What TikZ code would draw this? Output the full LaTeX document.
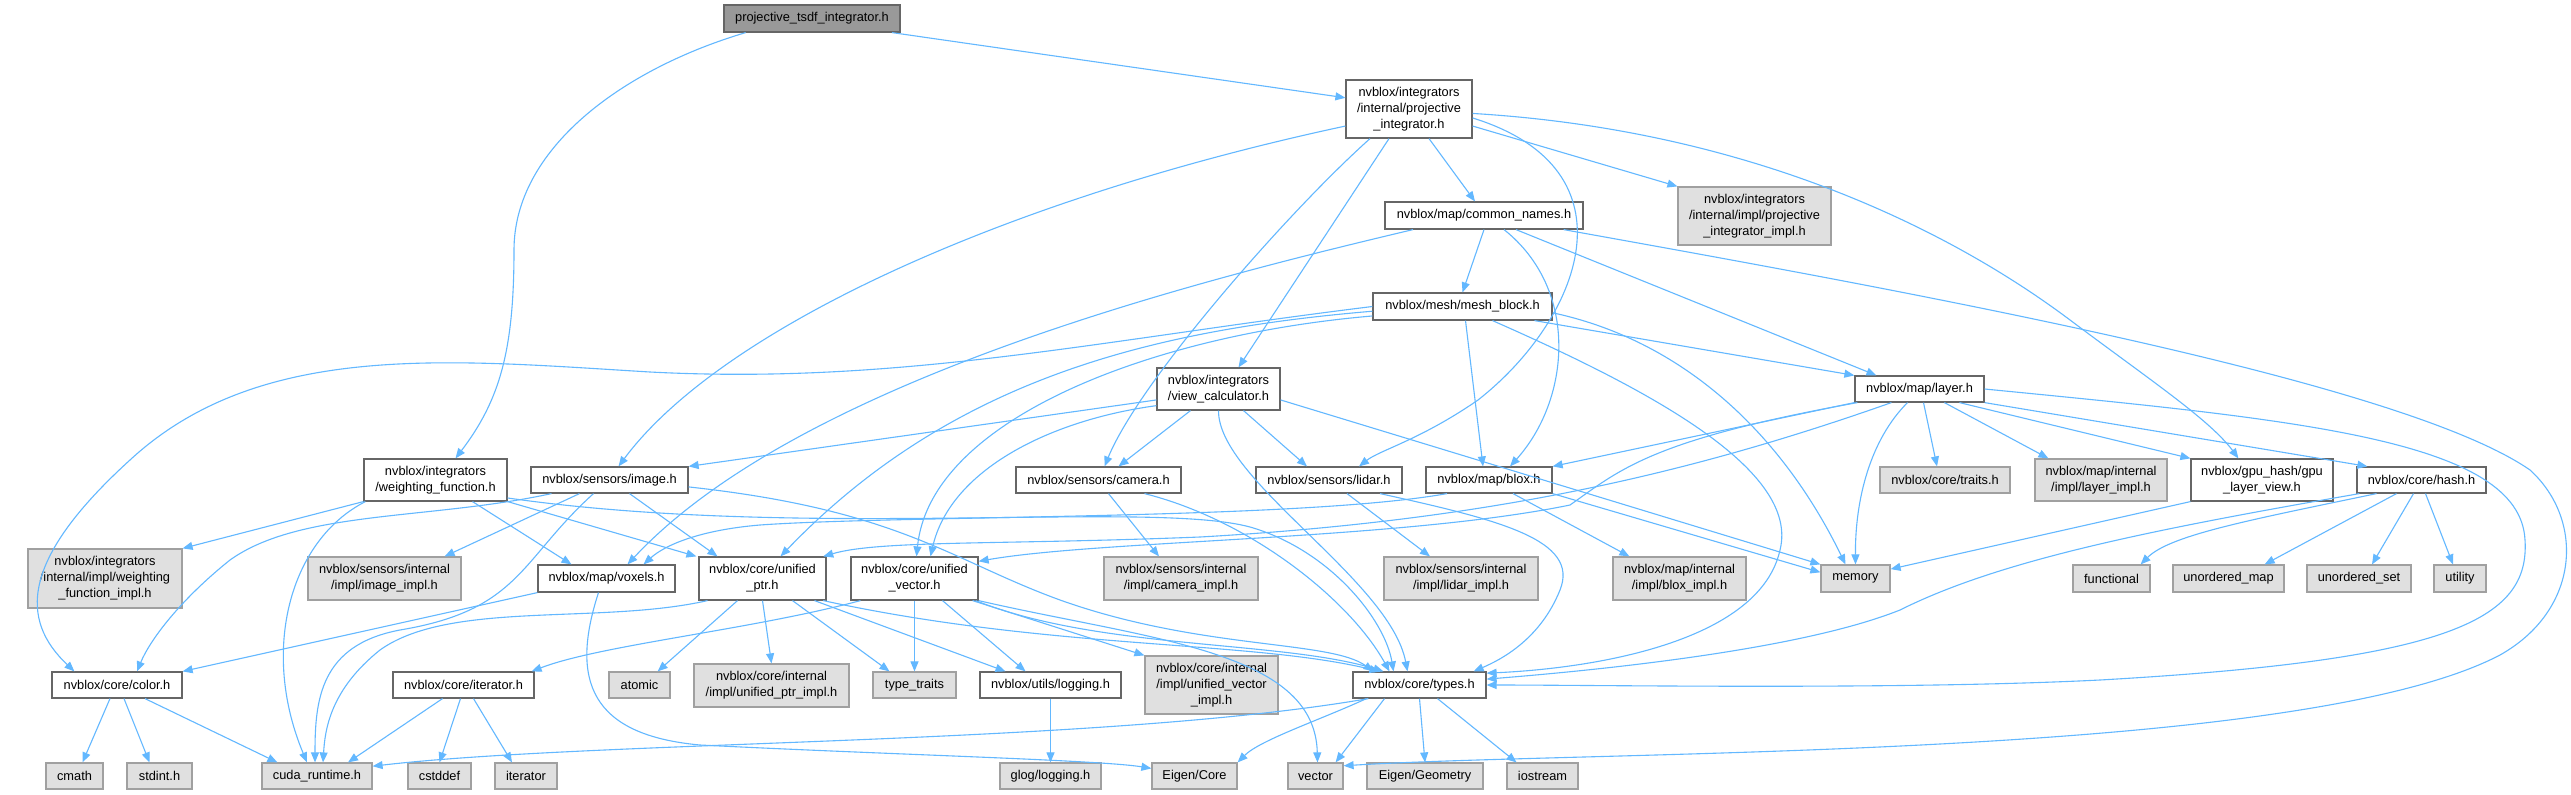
\documentclass[tikz,border=0pt]{standalone}
\usepackage{fontspec}
\setmainfont{Liberation Sans}
\usetikzlibrary{arrows.meta}
\definecolor{eb}{HTML}{63B8FF}
\definecolor{bw}{HTML}{666666}
\definecolor{bg}{HTML}{A0A0A0}
\definecolor{gfill}{HTML}{E0E0E0}
\definecolor{topfill}{HTML}{999999}
\newcommand{\mkbox}[7]{\node[#1, minimum width={(#4-#3)*1bp}, minimum height={(#6-#5)*1bp}] (#2) at ({(#3+#4)/2},{(#5+#6)/2}) {#7};}
\tikzset{
 edge/.style={draw=eb, line width=1.1bp, -{Triangle[length=10bp,width=8bp]}},
 base/.style={inner sep=0pt, align=center, font=\fontsize{12.8bp}{16bp}\selectfont, line width=1.2bp},
 wn/.style={base, draw=bw, fill=white},
 gn/.style={base, draw=bg, fill=gfill},
 tn/.style={base, draw=bw, fill=topfill},
}
\begin{document}
\begin{tikzpicture}[x=1bp,y=-1bp]
\fill[white] (0,0) rectangle (2571,795);
\useasboundingbox (0,0) rectangle (2571,795);
% nodes
\mkbox{tn}{A}{724}{900}{5}{32}{projective\_tsdf\_integrator.h}
\mkbox{wn}{PI}{1346}{1472}{80}{138}{nvblox/integrators\\/internal/projective\\\_integrator.h}
\mkbox{wn}{CN}{1385}{1583}{202}{229}{nvblox/map/common\_names.h}
\mkbox{gn}{PIimpl}{1678}{1831}{187}{245}{nvblox/integrators\\/internal/impl/projective\\\_integrator\_impl.h}
\mkbox{wn}{MB}{1373}{1552}{293}{320}{nvblox/mesh/mesh\_block.h}
\mkbox{wn}{VC}{1157}{1280}{368}{410}{nvblox/integrators\\/view\_calculator.h}
\mkbox{wn}{L}{1855}{1984}{376}{402}{nvblox/map/layer.h}
\mkbox{wn}{WF}{364}{507}{459}{501}{nvblox/integrators\\/weighting\_function.h}
\mkbox{wn}{image}{531}{688}{467}{493}{nvblox/sensors/image.h}
\mkbox{wn}{camera}{1016}{1181}{467}{493}{nvblox/sensors/camera.h}
\mkbox{wn}{lidar}{1256}{1402}{467}{493}{nvblox/sensors/lidar.h}
\mkbox{wn}{blox}{1426}{1552}{467}{493}{nvblox/map/blox.h}
\mkbox{gn}{traits}{1880}{2010}{467}{493}{nvblox/core/traits.h}
\mkbox{gn}{layerimpl}{2035}{2167}{459}{501}{nvblox/map/internal\\/impl/layer\_impl.h}
\mkbox{wn}{gpuview}{2191}{2333}{459}{501}{nvblox/gpu\_hash/gpu\\\_layer\_view.h}
\mkbox{wn}{hash}{2357}{2486}{467}{493}{nvblox/core/hash.h}
\mkbox{gn}{WFimpl}{28}{182}{549}{608}{nvblox/integrators\\/internal/impl/weighting\\\_function\_impl.h}
\mkbox{gn}{imageimpl}{308}{461}{557}{600}{nvblox/sensors/internal\\/impl/image\_impl.h}
\mkbox{wn}{voxels}{538}{675}{565}{592}{nvblox/map/voxels.h}
\mkbox{wn}{uptr}{699}{826}{557}{600}{nvblox/core/unified\\\_ptr.h}
\mkbox{wn}{uvec}{851}{978}{557}{600}{nvblox/core/unified\\\_vector.h}
\mkbox{gn}{cameraimpl}{1104}{1258}{557}{600}{nvblox/sensors/internal\\/impl/camera\_impl.h}
\mkbox{gn}{lidarimpl}{1384}{1538}{557}{600}{nvblox/sensors/internal\\/impl/lidar\_impl.h}
\mkbox{gn}{bloximpl}{1613}{1746}{557}{600}{nvblox/map/internal\\/impl/blox\_impl.h}
\mkbox{gn}{memory}{1821}{1890}{565}{592}{memory}
\mkbox{gn}{functional}{2073}{2150}{565}{592}{functional}
\mkbox{gn}{umap}{2173}{2284}{565}{592}{unordered\_map}
\mkbox{gn}{uset}{2307}{2411}{565}{592}{unordered\_set}
\mkbox{gn}{utility}{2434}{2486}{565}{592}{utility}
\mkbox{wn}{color}{52}{182}{672}{698}{nvblox/core/color.h}
\mkbox{wn}{iterh}{393}{534}{672}{698}{nvblox/core/iterator.h}
\mkbox{gn}{atomic}{609}{670}{672}{698}{atomic}
\mkbox{gn}{uptrimpl}{694}{849}{664}{707}{nvblox/core/internal\\/impl/unified\_ptr\_impl.h}
\mkbox{gn}{typetraits}{873}{956}{672}{698}{type\_traits}
\mkbox{wn}{logging}{980}{1121}{672}{698}{nvblox/utils/logging.h}
\mkbox{gn}{uvecimpl}{1145}{1278}{656}{714}{nvblox/core/internal\\/impl/unified\_vector\\\_impl.h}
\mkbox{wn}{types}{1353}{1486}{672}{698}{nvblox/core/types.h}
\mkbox{gn}{cmath}{46}{103}{763}{789}{cmath}
\mkbox{gn}{stdint}{127}{192}{763}{789}{stdint.h}
\mkbox{gn}{cuda}{262}{372}{763}{789}{cuda\_runtime.h}
\mkbox{gn}{cstddef}{408}{471}{763}{789}{cstddef}
\mkbox{gn}{iterator}{495}{557}{763}{789}{iterator}
\mkbox{gn}{glog}{1000}{1101}{763}{789}{glog/logging.h}
\mkbox{gn}{eigencore}{1152}{1237}{763}{789}{Eigen/Core}
\mkbox{gn}{vector}{1288}{1343}{763}{789}{vector}
\mkbox{gn}{eigengeom}{1367}{1483}{763}{789}{Eigen/Geometry}
\mkbox{gn}{iostream}{1507}{1578}{763}{789}{iostream}
% edges from A
\draw[edge] (A.-10) -- (PI.170);
\draw[edge] (A.-168) .. controls (620,70) and (514,150) .. (514,250) .. controls (514,350) and (500,400) .. ([xshift=20bp]WF.north);
% PI
\draw[edge] ([xshift=20bp]PI.south) -- ([xshift=-9bp]CN.north);
\draw[edge] (PI.-15) -- (PIimpl.north west);
\draw[edge] ([xshift=-20bp]PI.south) -- ([xshift=20bp]VC.north);
\draw[edge] (PI.-165) .. controls (1000,200) and (720,330) .. ([xshift=9bp]image.north);
\draw[edge] ([xshift=-39bp]PI.south) .. controls (1290,210) and (1140,380) .. ([xshift=6bp]camera.north);
\draw[edge] (PI.-8) .. controls (1640,170) and (1580,320) .. (1478,400) .. controls (1420,440) and (1380,450) .. ([xshift=30bp]lidar.north);
\draw[edge] (PI.-4) .. controls (1750,130) and (1950,230) .. (2070,320) .. controls (2150,380) and (2210,420) .. ([xshift=48bp]gpuview.north west);
% CN
\draw[edge] (CN.south) -- (MB.north);
\draw[edge] ([xshift=32bp]CN.south) -- ([xshift=22bp]L.north west);
\draw[edge] ([xshift=-71bp]CN.south) .. controls (1200,280) and (800,380) .. ([xshift=21bp]voxels.north);
\draw[edge] ([xshift=20bp]CN.south) .. controls (1580,290) and (1570,400) .. ([xshift=21bp]blox.north);
\draw[edge] ([xshift=-20bp]CN.south east) .. controls (1900,290) and (2400,380) .. (2530,470) .. controls (2585,520) and (2580,610) .. (2500,655) .. controls (2300,760) and (1600,750) .. (vector.20);
% MB
\draw[edge] (MB.west) .. controls (1100,340) and (900,385) .. (650,372) .. controls (450,360) and (260,340) .. (130,460) .. controls (20,560) and (20,620) .. ([xshift=23bp]color.north west);
\draw[edge] (MB.183) .. controls (1150,330) and (950,380) .. ([xshift=18bp]uptr.north);
\draw[edge] (MB.186) .. controls (1150,335) and (930,420) .. ([xshift=2bp]uvec.north);
\draw[edge] ([xshift=3bp]MB.south) -- ([xshift=-6bp]blox.north);
\draw[edge] ([xshift=72bp]MB.south) -- (L.north west);
\draw[edge] ([xshift=30bp]MB.south) .. controls (1650,390) and (1800,470) .. (1780,550) .. controls (1760,640) and (1600,668) .. (types.10);
\draw[edge] (MB.-4) .. controls (1680,340) and (1780,430) .. ([xshift=-10bp]memory.north);
% VC
\draw[edge] (VC.190) -- (image.north east);
\draw[edge] (VC.195) .. controls (1050,420) and (950,470) .. ([xshift=16bp]uvec.north);
\draw[edge] ([xshift=-28bp]VC.south) -- ([xshift=20bp]camera.north);
\draw[edge] ([xshift=25bp]VC.south) -- ([xshift=-22bp]lidar.north);
\draw[edge] (VC.south) .. controls (1218,480) and (1390,580) .. ([xshift=-12bp]types.north);
\draw[edge] (VC.-10) -- (memory.north west);
% image
\draw[edge] ([xshift=-30bp]image.south) -- ([xshift=-17bp]imageimpl.north east);
\draw[edge] ([xshift=-58bp]image.south) .. controls (430,520) and (300,510) .. (230,560) .. controls (180,600) and (150,640) .. ([xshift=20bp]color.north);
\draw[edge] ([xshift=-16bp]image.south) .. controls (520,560) and (520,610) .. (400,630) .. controls (320,645) and (315,700) .. ([xshift=-2bp]cuda.north);
\draw[edge] ([xshift=20bp]image.south) -- ([xshift=-45bp]uptr.north);
\draw[edge] (image.-5) .. controls (900,510) and (950,560) .. (1060,600) .. controls (1200,650) and (1330,640) .. ([xshift=-46bp]types.north);
% WF
\draw[edge] (WF.south west) -- (WFimpl.north east);
\draw[edge] ([xshift=2bp]WF.south west) .. controls (290,540) and (260,650) .. ([xshift=-10bp]cuda.north);
\draw[edge] ([xshift=37bp]WF.south) -- ([xshift=-35bp]voxels.north);
\draw[edge] (WF.south east) -- ([xshift=-2bp]uptr.north west);
\draw[edge] (WF.-14) .. controls (800,540) and (1150,500) .. (1250,527) .. controls (1330,550) and (1385,620) .. ([xshift=-26bp]types.north);
% voxels
\draw[edge] (voxels.south west) -- (color.north east);
\draw[edge] ([xshift=-8bp]voxels.south) .. controls (570,680) and (590,735) .. (700,745) .. controls (900,755) and (1100,760) .. (eigencore.170);
% uptr
\draw[edge] ([xshift=-25bp]uptr.south) -- ([xshift=-13bp]atomic.north east);
\draw[edge] (uptr.south) -- (uptrimpl.north);
\draw[edge] ([xshift=30bp]uptr.south) -- ([xshift=-25bp]typetraits.north);
\draw[edge] ([xshift=52bp]uptr.south) -- ([xshift=-45bp]logging.north);
\draw[edge] (uptr.-20) .. controls (1050,650) and (1250,640) .. ([xshift=-40bp]types.north);
\draw[edge] ([xshift=-55bp]uptr.south) .. controls (600,625) and (450,600) .. (380,650) .. controls (330,690) and (325,730) .. ([xshift=6bp]cuda.north);
% uvec
\draw[edge] (uvec.south) -- (typetraits.north);
\draw[edge] ([xshift=28bp]uvec.south) -- ([xshift=-25bp]logging.north);
\draw[edge] ([xshift=-6bp]uvec.south east) -- (uvecimpl.north west);
\draw[edge] ([xshift=-3bp]uvec.south east) .. controls (1100,650) and (1280,640) .. ([xshift=-36bp]types.north);
\draw[edge] ([xshift=-54bp]uvec.south) .. controls (750,630) and (600,645) .. ([xshift=-3bp]iterh.north east);
\draw[edge] (uvec.south east) .. controls (1150,640) and (1315,650) .. ([xshift=2bp]vector.north);
% types
\draw[edge] ([xshift=16bp]types.south west) .. controls (1100,745) and (600,740) .. (cuda.10);
\draw[edge] ([xshift=14bp]types.south west) .. controls (1320,720) and (1260,740) .. (eigencore.north east);
\draw[edge] ([xshift=-35bp]types.south) -- ([xshift=-8bp]vector.north east);
\draw[edge] (types.south) -- (eigengeom.north);
\draw[edge] ([xshift=18bp]types.south) -- ([xshift=-26bp]iostream.north);
% color, iterator, logging
\draw[edge] ([xshift=-7bp]color.south) -- ([xshift=8bp]cmath.north);
\draw[edge] ([xshift=7bp]color.south) -- ([xshift=-10bp]stdint.north);
\draw[edge] ([xshift=28bp]color.south) -- ([xshift=16bp]cuda.north west);
\draw[edge] ([xshift=-21bp]iterh.south) -- ([xshift=31bp]cuda.north);
\draw[edge] ([xshift=-3bp]iterh.south) -- (cstddef.north);
\draw[edge] ([xshift=10bp]iterh.south) -- ([xshift=-14bp]iterator.north);
\draw[edge] (logging.south) -- (glog.north);
% camera, lidar, blox
\draw[edge] ([xshift=10bp]camera.south) -- ([xshift=-22bp]cameraimpl.north);
\draw[edge] ([xshift=46bp]camera.south) .. controls (1250,520) and (1350,600) .. ([xshift=-30bp]types.north);
\draw[edge] ([xshift=18bp]lidar.south) -- ([xshift=-31bp]lidarimpl.north);
\draw[edge] ([xshift=51bp]lidar.south) .. controls (1500,520) and (1580,540) .. (1560,590) .. controls (1540,640) and (1500,660) .. ([xshift=-13bp]types.north east);
\draw[edge] ([xshift=24bp]blox.south) -- ([xshift=17bp]bloximpl.north west);
\draw[edge] (blox.south east) -- (memory.170);
\draw[edge] ([xshift=-42bp]blox.south) .. controls (1300,520) and (900,515) .. (760,525) .. controls (700,530) and (665,545) .. ([xshift=37bp]voxels.north);
% layer
\draw[edge] ([xshift=4bp]L.south) -- ([xshift=-8bp]traits.north);
\draw[edge] ([xshift=90bp]L.south west) -- ([xshift=14bp]layerimpl.north west);
\draw[edge] ([xshift=105bp]L.south west) -- (gpuview.north west);
\draw[edge] (L.south east) -- ([xshift=11bp]hash.north west);
\draw[edge] ([xshift=-12bp]L.south) .. controls (1870,440) and (1855,500) .. (memory.north);
\draw[edge] (L.south west) -- (blox.north east);
\draw[edge] ([xshift=3bp]L.south west) .. controls (1650,440) and (1620,470) .. (1570,505) .. controls (1400,540) and (1100,540) .. (uvec.15);
\draw[edge] ([xshift=37bp]L.south west) .. controls (1700,470) and (1500,520) .. (1200,537) .. controls (1000,545) and (880,540) .. (uptr.20);
\draw[edge] (L.east) .. controls (2300,420) and (2520,440) .. (2525,540) .. controls (2530,620) and (2450,660) .. (2100,680) .. controls (1900,690) and (1600,685) .. (types.east);
% hash, gpuview
\draw[edge] ([xshift=-45bp]hash.south) .. controls (2250,520) and (2170,535) .. ([xshift=-10bp]functional.north east);
\draw[edge] ([xshift=-25bp]hash.south) -- ([xshift=-20bp]umap.north east);
\draw[edge] ([xshift=-8bp]hash.south) -- ([xshift=13bp]uset.north);
\draw[edge] ([xshift=4bp]hash.south) -- ([xshift=-7bp]utility.north);
\draw[edge] ([xshift=3bp]hash.south west) .. controls (2150,530) and (2000,560) .. (1900,610) .. controls (1800,650) and (1600,670) .. (types.5);
\draw[edge] (gpuview.south west) -- (memory.15);
\end{tikzpicture}
\end{document}
